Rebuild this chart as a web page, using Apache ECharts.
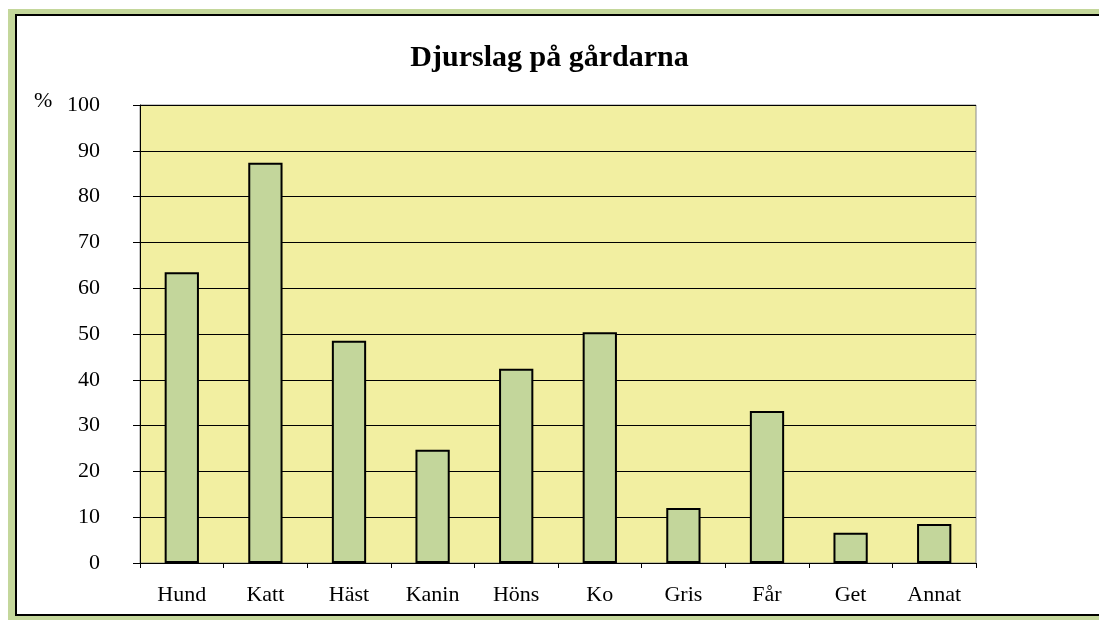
<!DOCTYPE html>
<html>
<head>
<meta charset="utf-8">
<script src="https://cdn.jsdelivr.net/npm/echarts@6/dist/echarts.min.js"></script>
<style>
    body {margin:0;background:#ffffff;overflow:hidden;}
    #outer {position:absolute;left:8px;top:9px;width:1200px;height:611px;background:#c4d79b;}
    #inner {position:absolute;left:7px;top:5px;width:1180px;height:598px;border:2px solid #000;background:#ffffff;}
    #chart {position:absolute;left:0;top:0;width:1099px;height:620px;}
</style>
</head>
<body>
<div id="outer"><div id="inner"></div></div>
<div id="chart"></div>
<script>
    // kategorier och värden (procent)
    var categories = ['Hund', 'Katt', 'Häst', 'Kanin', 'Höns', 'Ko', 'Gris', 'Får', 'Get', 'Annat'];
    var values = [63.5, 87.4, 48.5, 24.7, 42.4, 50.4, 12.0, 33.2, 6.6, 8.5];

    var chart = echarts.init(document.getElementById('chart'));
    var serif = 'Liberation Serif, Times New Roman, serif';

    var option = {
        animation: false,
        title: {
            text: 'Djurslag på gårdarna',
            left: 'center',
            top: 38,
            textStyle: {fontFamily: serif, fontSize: 30, fontWeight: 'bold', color: '#000'}
        },
        graphic: [
            {type: 'text', left: 34, top: 90, style: {text: '%', font: '22px ' + serif, fill: '#000'}}
        ],
        grid: {
            left: 140, right: 123, top: 105, bottom: 57,
            show: true,
            backgroundColor: '#f2efa1',
            borderColor: '#8c8c8c',
            borderWidth: 1
        },
        xAxis: {
            type: 'category',
            data: categories,
            axisLine: {lineStyle: {color: '#000', width: 1}},
            axisTick: {show: true, length: 5, lineStyle: {color: '#000'}},
            axisLabel: {fontFamily: serif, fontSize: 22, color: '#000', margin: 21}
        },
        yAxis: {
            type: 'value',
            min: 0,
            max: 100,
            interval: 10,
            axisLine: {show: true, lineStyle: {color: '#000', width: 1}},
            axisTick: {show: true, length: 7, lineStyle: {color: '#000'}},
            axisLabel: {fontFamily: serif, fontSize: 22, color: '#000', margin: 40},
            splitLine: {lineStyle: {color: '#000', width: 1}}
        },
        series: [
            {
                type: 'bar',
                data: values,
                barWidth: '41%',
                itemStyle: {color: '#c3d69b', borderColor: '#000', borderWidth: 2}
            }
        ]
    };
    chart.setOption(option);
</script>
</body>
</html>
